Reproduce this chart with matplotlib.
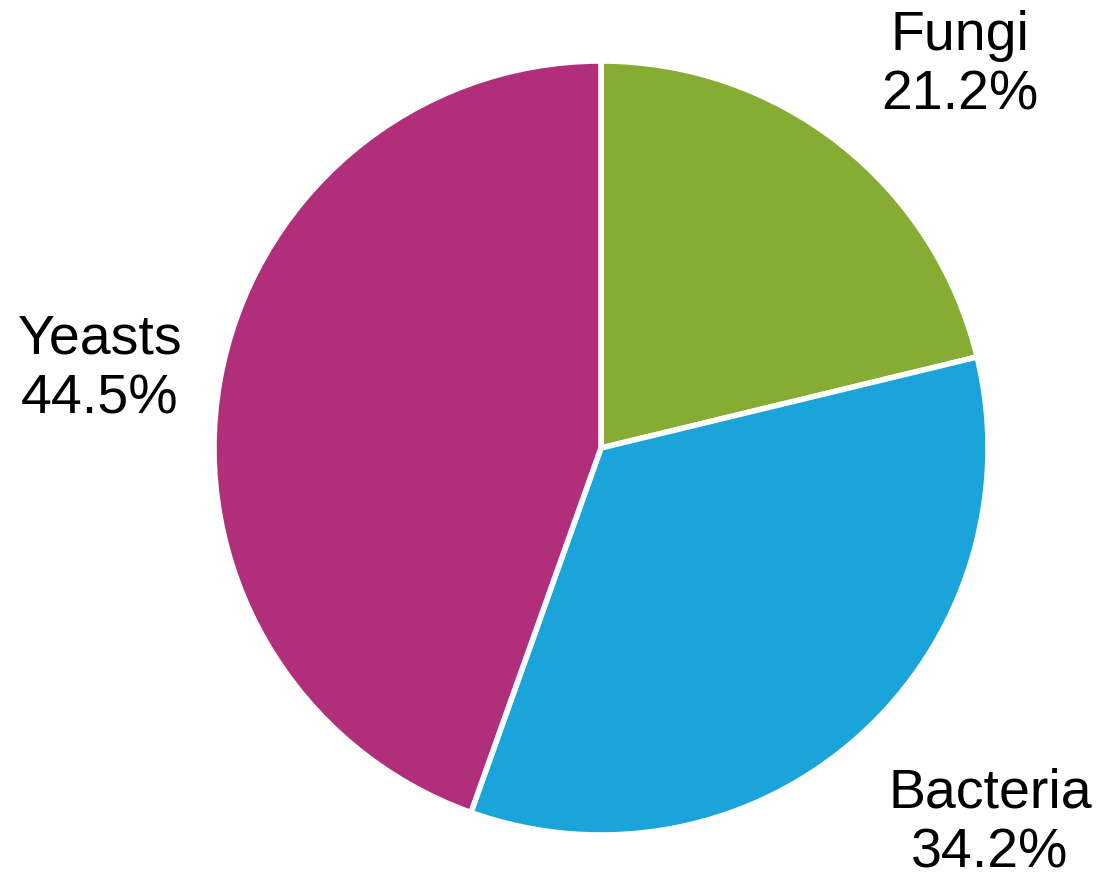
import matplotlib
matplotlib.use("Agg")
import matplotlib.pyplot as plt

categories = ["Fungi", "Bacteria", "Yeasts"]
values = [21.2, 34.2, 44.5]
colors = ["#86AC34", "#1BA4D9", "#B12F7A"]

W, H = 1106, 890
fig = plt.figure(figsize=(W / 100, H / 100), dpi=100)
ax = fig.add_axes([0, 0, 1, 1])

cx, cy, r = 601, H - 448, 387
ax.pie(values, colors=colors, startangle=90, counterclock=False,
       center=(cx, cy), radius=r, frame=True,
       wedgeprops=dict(edgecolor="white", linewidth=4))
ax.set_xlim(0, W)
ax.set_ylim(0, H)
ax.set_aspect("equal")
ax.axis("off")

label_pos = [(960, H - 66), (990, H - 823), (100, H - 370)]
for name, v, (x, y) in zip(categories, values, label_pos):
    ax.text(x, y, f"{name}\n{v}%", ha="center", va="center",
            fontsize=40, family="Liberation Sans", linespacing=1.2)

fig.savefig("out.png", dpi=100)
